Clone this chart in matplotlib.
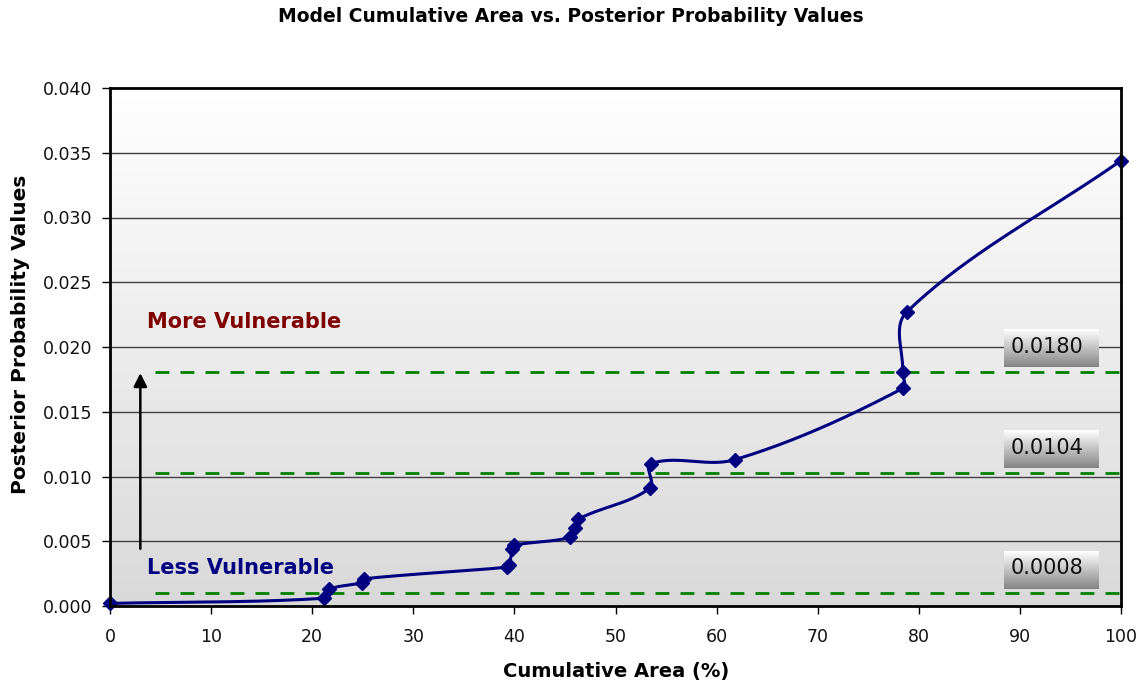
import numpy as np
import matplotlib
matplotlib.use("Agg")
import matplotlib.pyplot as plt
from matplotlib.colors import LinearSegmentedColormap

# ---- data ----
cum_area = [0.0, 21.2, 21.7, 24.9, 25.1, 39.3, 39.5, 39.8, 40.0, 45.5, 46.0, 46.3,
            53.4, 53.5, 61.8, 78.4, 78.4, 78.8, 100.0]
post_prob = [0.0002, 0.0006, 0.0013, 0.0018, 0.0021, 0.0030, 0.0032, 0.0044, 0.0047,
             0.0053, 0.0060, 0.0067, 0.0091, 0.0110, 0.0113, 0.0168, 0.0181, 0.0227, 0.0344]
threshold_lines = [0.0181, 0.0103, 0.0010]
threshold_labels = ["0.0180", "0.0104", "0.0008"]
x_ticks = list(range(0, 101, 10))
y_ticks = [0.000, 0.005, 0.010, 0.015, 0.020, 0.025, 0.030, 0.035, 0.040]

fig = plt.figure(figsize=(11.46, 6.85), dpi=100)
ax = fig.add_axes([110/1146, 1-606/685, (1121-110)/1146, (606-88)/685])
ax.set_xlim(0, 100)
ax.set_ylim(0, 0.040)

# gradient background (white top -> light gray bottom)
grad = np.linspace(0, 1, 256).reshape(-1, 1)
cmap = LinearSegmentedColormap.from_list("bg", ["#ffffff", "#d9d9d9"])
ax.imshow(grad, aspect="auto", cmap=cmap, extent=[0, 100, 0, 0.040], origin="upper", zorder=0)

for yv in y_ticks[1:-1]:
    ax.axhline(yv, color="#404040", lw=1.0, zorder=1)

# Excel-like smoothed line (length-limited Catmull-Rom in pixel space)
W, H = 1011.0, 518.0
px = np.array(cum_area) / 100 * W
py = np.array(post_prob) / 0.04 * H
P = np.column_stack([px, py])
n = len(P)

def unit(v):
    L = np.hypot(*v)
    return v / L if L > 0 else v

curve = [P[0]]
for i in range(n - 1):
    p0 = P[i - 1] if i > 0 else P[i]
    p1 = P[i]
    p2 = P[i + 1]
    p3 = P[i + 2] if i + 2 < n else P[i + 1]
    d = np.hypot(*(p2 - p1))
    c1 = p1 + unit(p2 - p0) * d / 3.0
    c2 = p2 - unit(p3 - p1) * d / 3.0
    t = np.linspace(0, 1, 40)[1:, None]
    seg = (1 - t) ** 3 * p1 + 3 * (1 - t) ** 2 * t * c1 + 3 * (1 - t) * t ** 2 * c2 + t ** 3 * p2
    curve.extend(seg)
curve = np.array(curve)
ax.plot(curve[:, 0] / W * 100, curve[:, 1] / H * 0.04, color="#000080", lw=2.2, zorder=4,
        clip_on=False)
ax.plot(cum_area, post_prob, linestyle="none", marker="D", markersize=7.5,
        color="#000080", zorder=5, clip_on=False)

# thresholds
for yv in threshold_lines:
    ax.plot([4.5, 100], [yv, yv], color="#008000", lw=2, dashes=(5, 4), zorder=3)

# label boxes with gradient
box_cmap = LinearSegmentedColormap.from_list("lb", ["#ffffff", "#858585"])
for yv, lab in zip(threshold_lines, threshold_labels):
    y0 = yv + 0.00035
    y1 = y0 + 0.0029
    x0, x1 = 88.4, 97.7
    ax.imshow(np.linspace(0, 1, 64).reshape(-1, 1), aspect="auto", cmap=box_cmap,
              extent=[x0, x1, y0, y1], origin="upper", zorder=6)
    ax.text(x0 + 0.7, (y0 + y1) / 2 + 0.0001, lab, fontsize=15, family="DejaVu Sans",
            ha="left", va="center", color="#111111", zorder=7)

ax.set_xlim(0, 100)
ax.set_ylim(0, 0.040)

# arrow
ax.annotate("", xy=(3.0, 0.0182), xytext=(3.0, 0.0042),
            arrowprops=dict(arrowstyle="-|>", color="black", lw=1.8,
                            mutation_scale=20), zorder=6)
ax.text(3.7, 0.0219, "More Vulnerable", color="#800000", fontsize=15, fontweight="bold",
        ha="left", va="center", family="DejaVu Sans")
ax.text(3.7, 0.0029, "Less Vulnerable", color="#000080", fontsize=15, fontweight="bold",
        ha="left", va="center", family="DejaVu Sans")

ax.set_xticks(x_ticks)
ax.set_yticks(y_ticks)
ax.set_xticklabels([str(v) for v in x_ticks], fontsize=12.5, family="DejaVu Sans")
ax.set_yticklabels(["%.3f" % v for v in y_ticks], fontsize=12.5, family="DejaVu Sans")
ax.tick_params(direction="out", length=6, width=1, color="black", pad=7, colors="#111111")
ax.tick_params(axis="x", pad=10)
for s in ax.spines.values():
    s.set_color("black")
    s.set_linewidth(2)
    s.set_zorder(8)

xl = ax.set_xlabel("Cumulative Area (%)", fontsize=14, fontweight="bold", family="DejaVu Sans")
yl = ax.set_ylabel("Posterior Probability Values", fontsize=14.5, fontweight="bold",
                   family="DejaVu Sans")
ax.xaxis.set_label_coords((616-110)/1011, (606-671)/518)
ax.yaxis.set_label_coords((21-110)/1011, (606-334)/518)
xl.set_va("center")
yl.set_va("center")
fig.text(571/1146, 1-17/685, "Model Cumulative Area vs. Posterior Probability Values",
         ha="center", va="center", fontsize=13.5, fontweight="bold", family="DejaVu Sans")

fig.savefig("out.png", dpi=100)
